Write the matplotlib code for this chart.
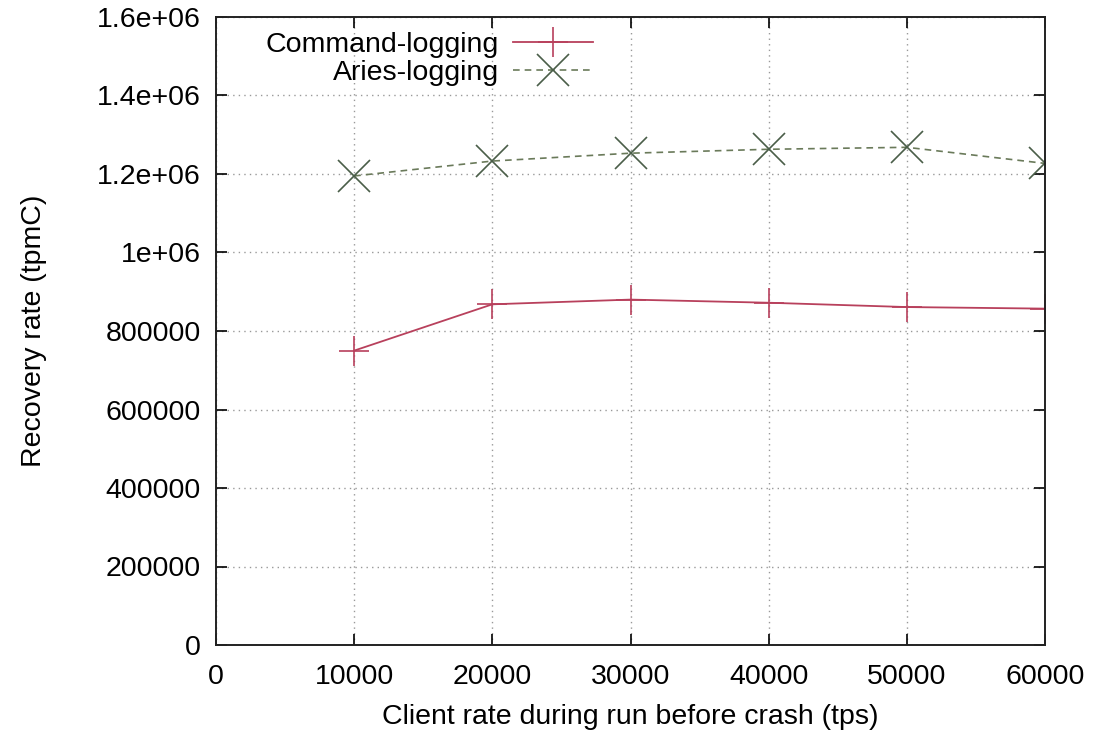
import matplotlib
matplotlib.use("Agg")
import matplotlib.pyplot as plt

client_rate = [10000, 20000, 30000, 40000, 50000, 60000]
command_logging = [750000, 868000, 880000, 872000, 861000, 857000]
aries_logging = [1195000, 1233000, 1253000, 1263000, 1268000, 1227000]
xticks = [0, 10000, 20000, 30000, 40000, 50000, 60000]
yticks = [0, 200000, 400000, 600000, 800000, 1000000, 1200000, 1400000, 1600000]
ytick_labels = ["0", "200000", "400000", "600000", "800000", "1e+06", "1.2e+06", "1.4e+06", "1.6e+06"]

plt.rcParams['font.family'] = ['Liberation Sans', 'DejaVu Sans']

fig = plt.figure(figsize=(10.93, 7.38), dpi=100)
ax = fig.add_axes([216/1093, 1 - 645/738, (1045-216)/1093, (645-17)/738])

ax.plot(client_rate, command_logging, color='#b8405c', lw=1.3, marker='+',
        markersize=21, markeredgewidth=1.2, label='Command-logging')
ax.plot(client_rate, aries_logging, color='#6a7a5a', lw=1.2, ls=(0, (4, 3)), marker='x',
        markersize=23, markeredgewidth=1.2, markeredgecolor='#4a5e48', label='Aries-logging')

ax.set_xlim(0, 60000)
ax.set_ylim(0, 1600000)
ax.set_xticks(xticks)
ax.set_xticklabels([str(v) for v in xticks], fontsize=20.5)
ax.set_yticks(yticks)
ax.set_yticklabels(ytick_labels, fontsize=20.5)
ax.tick_params(axis='x', direction='in', length=8, width=1.2, top=True, pad=14)
ax.tick_params(axis='y', direction='in', length=8, width=1.2, right=True, pad=11)
ax.grid(True, color='#999999', ls=(0, (1, 3)), lw=1)
for s in ax.spines.values():
    s.set_linewidth(1.4)
    s.set_color('#222222')

ax.set_xlabel('Client rate during run before crash (tps)', fontsize=20.5, labelpad=10)
ax.set_ylabel('Recovery rate (tpmC)', fontsize=20.5, labelpad=36)

leg = ax.legend(loc='upper left', bbox_to_anchor=(0.0595, 0.9755), frameon=False, markerfirst=False,
                fontsize=20.5, handlelength=2.8, handletextpad=0.5, labelspacing=0.05,
                borderaxespad=0, borderpad=0)
for t in leg.get_texts():
    t.set_ha('right')

fig.savefig('out.png', dpi=100)
